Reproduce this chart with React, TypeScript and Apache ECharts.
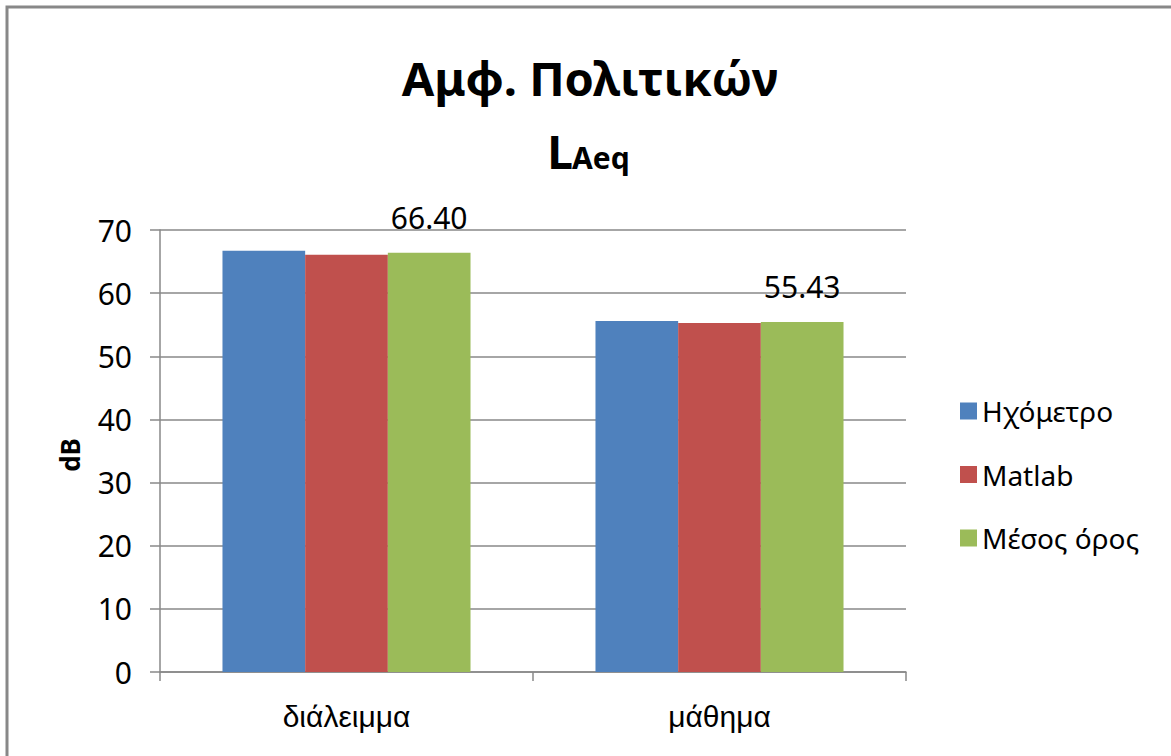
import React, { useEffect, useRef } from "react";
import * as echarts from "echarts";

const categories = ["διάλειμμα", "μάθημα"];
const seriesNames = ["Ηχόμετρο", "Matlab", "Μέσος όρος"];
const meterValues = [66.7, 55.6];
const matlabValues = [66.1, 55.26];
const meanValues = [66.4, 55.43];
const yTicks = [0, 70, 10];
const colors = ["#4F81BD", "#C0504D", "#9BBB59"];

export default function App() {
  const ref = useRef<HTMLDivElement>(null);
  useEffect(() => {
    if (!ref.current) return;
    const chart = echarts.init(ref.current, null, { renderer: "svg" });
    const font = "Noto Sans";
    chart.setOption({
      animation: false,
      backgroundColor: "#fff",
      color: colors,
      grid: { left: 160, right: 265, top: 230, bottom: 84, containLabel: false },
      graphic: [
        {
          type: "rect",
          shape: { x: 7, y: 7, width: 1200, height: 800 },
          style: { fill: "none", stroke: "#888", lineWidth: 3 },
          silent: true,
        },
        {
          type: "text",
          x: 590,
          y: 78,
          style: {
            text: "Αμφ. Πολιτικών",
            fontFamily: font,
            fontWeight: "bold",
            fontSize: 47,
            fill: "#000",
            align: "center",
            verticalAlign: "middle",
          },
        },
        {
          type: "text",
          x: 573,
          y: 151,
          style: {
            text: "L",
            fontFamily: font,
            fontWeight: "bold",
            fontSize: 46,
            fill: "#000",
            align: "right",
            verticalAlign: "middle",
          },
        },
        {
          type: "text",
          x: 572,
          y: 157,
          style: {
            text: "Aeq",
            fontFamily: font,
            fontWeight: "bold",
            fontSize: 30,
            fill: "#000",
            align: "left",
            verticalAlign: "middle",
          },
        },
        {
          type: "text",
          x: 70,
          y: 455,
          rotation: Math.PI / 2,
          style: {
            text: "dB",
            fontFamily: font,
            fontWeight: "bold",
            fontSize: 26,
            fill: "#000",
            align: "center",
            verticalAlign: "middle",
          },
        },
      ],
      legend: {
        orient: "vertical",
        left: 955,
        top: 392,
        itemWidth: 17,
        itemHeight: 17,
        itemGap: 35.5,
        icon: "rect",
        textStyle: { fontFamily: font, fontSize: 28, color: "#000", lineHeight: 28 },
        data: seriesNames,
      },
      xAxis: {
        type: "category",
        data: categories,
        axisLine: { lineStyle: { color: "#888", width: 1.5 } },
        axisTick: { show: true, length: 9, lineStyle: { color: "#888", width: 1.5 } },
        axisLabel: {
          fontFamily: "Liberation Sans",
          fontSize: 30,
          color: "#000",
          margin: 29,
        },
      },
      yAxis: {
        type: "value",
        min: yTicks[0],
        max: yTicks[1],
        interval: yTicks[2],
        axisLine: { show: true, lineStyle: { color: "#888", width: 1.5 } },
        axisTick: { show: true, length: 10, lineStyle: { color: "#888", width: 1.5 } },
        splitLine: { show: true, lineStyle: { color: "#888", width: 1.5 } },
        axisLabel: { fontFamily: font, fontSize: 30, color: "#000", margin: 28 },
      },
      series: [
        {
          name: seriesNames[0],
          type: "bar",
          data: meterValues,
          barGap: "0%",
          barCategoryGap: "33.5%",
        },
        {
          name: seriesNames[1],
          type: "bar",
          data: matlabValues,
          barGap: "0%",
          barCategoryGap: "33.5%",
        },
        {
          name: seriesNames[2],
          type: "bar",
          data: meanValues,
          barGap: "0%",
          barCategoryGap: "33.5%",
          label: {
            show: true,
            position: "top",
            distance: 20,
            formatter: (p: any) => p.value.toFixed(2),
            fontFamily: font,
            fontSize: 30,
            color: "#000",
          },
        },
      ],
    });
    return () => chart.dispose();
  }, []);
  return (
    <div
      ref={ref}
      style={{ position: "fixed", left: 0, top: 0, width: 1171, height: 756 }}
    />
  );
}
